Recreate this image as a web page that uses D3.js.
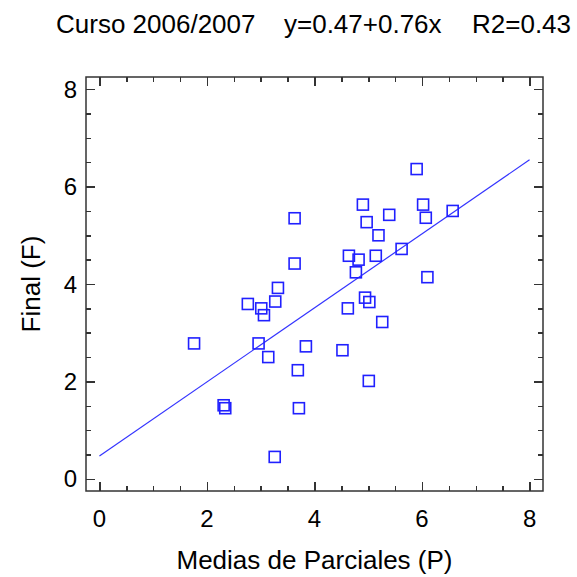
<!DOCTYPE html>
<html>
<head>
<meta charset="utf-8">
<script src="https://cdn.jsdelivr.net/npm/d3@7"></script>
<style>
  html, body { margin: 0; padding: 0; background: #fff; }
  text { font-family: "Liberation Sans", Arial, sans-serif; }
</style>
</head>
<body>
<div id="chart"></div>
<script>
// Medias de parciales (P) vs final (F), one entry per student
var parciales = [1.76, 2.31, 2.34, 2.76, 3.01, 3.06, 2.96, 3.14, 3.27, 3.32, 3.26, 3.63,
  3.63, 3.69, 3.71, 3.84, 4.52, 4.62, 4.64, 4.77, 4.82, 4.90, 4.97, 4.94, 5.02, 5.01,
  5.19, 5.14, 5.26, 5.39, 5.62, 5.90, 6.02, 6.07, 6.10, 6.57];
var finales = [2.78, 1.51, 1.45, 3.59, 3.50, 3.36, 2.78, 2.50, 3.64, 3.92, 0.45, 5.35,
  4.42, 2.23, 1.45, 2.72, 2.64, 3.50, 4.58, 4.24, 4.50, 5.63, 5.27, 3.72, 3.63, 2.01,
  5.00, 4.58, 3.22, 5.42, 4.72, 6.36, 5.63, 5.36, 4.14, 5.50];

// fitted line y = a + b x
var intercept = 0.47, slope = 0.76;
var lineRange = [0, 8];

var majorTicks = [0, 2, 4, 6, 8];
var titleParts = ["Curso 2006/2007", "y=0.47+0.76x", "R2=0.43"];

var width = 577, height = 577;
var margin = { top: 77, right: 34, bottom: 86, left: 86 };

var svg = d3.select("#chart").append("svg")
  .attr("width", width)
  .attr("height", height);

var xScale = d3.scaleLinear()
  .domain([-0.25, 8.25])
  .range([margin.left, width - margin.right]);
var yScale = d3.scaleLinear()
  .domain([-0.25, 8.25])
  .range([height - margin.bottom, margin.top]);

var minorTicks = d3.range(0, 8.01, 0.5);
var axisColor = "#333";

// inward ticks on all four sides
function drawTicks(g, axisFn, scale, pos) {
  g.append("g")
    .attr("transform", pos)
    .call(axisFn(scale).tickValues(minorTicks).tickSize(-5).tickFormat(""))
    .call(s => s.select(".domain").remove());
  g.append("g")
    .attr("transform", pos)
    .call(axisFn(scale).tickValues(majorTicks).tickSize(-9).tickFormat(""))
    .call(s => s.select(".domain").remove());
}

var axes = svg.append("g").attr("class", "axes");
drawTicks(axes, d3.axisBottom, xScale, "translate(0," + yScale.range()[0] + ")");
drawTicks(axes, d3.axisTop, xScale, "translate(0," + yScale.range()[1] + ")");
drawTicks(axes, d3.axisLeft, yScale, "translate(" + xScale.range()[0] + ",0)");
drawTicks(axes, d3.axisRight, yScale, "translate(" + xScale.range()[1] + ",0)");
axes.selectAll(".tick line")
  .attr("stroke", axisColor)
  .attr("stroke-width", 1.5)
  .attr("shape-rendering", "crispEdges");

// frame
svg.append("rect")
  .attr("x", xScale.range()[0])
  .attr("y", yScale.range()[1])
  .attr("width", xScale.range()[1] - xScale.range()[0])
  .attr("height", yScale.range()[0] - yScale.range()[1])
  .attr("fill", "none")
  .attr("stroke", axisColor)
  .attr("stroke-width", 1.5);

// tick labels
svg.append("g").selectAll("text")
  .data(majorTicks)
  .enter().append("text")
  .attr("x", d => xScale(d))
  .attr("y", 527)
  .attr("text-anchor", "middle")
  .attr("font-size", 24)
  .text(d => d);
svg.append("g").selectAll("text")
  .data(majorTicks)
  .enter().append("text")
  .attr("x", 77)
  .attr("y", d => yScale(d))
  .attr("dy", "0.36em")
  .attr("text-anchor", "end")
  .attr("font-size", 24)
  .text(d => d);

// regression line
svg.append("path")
  .datum(lineRange)
  .attr("fill", "none")
  .attr("stroke", "#3333ff")
  .attr("stroke-width", 1.2)
  .attr("d", d3.line()
    .x(d => xScale(d))
    .y(d => yScale(intercept + slope * d)));

// points
var sq = 11;
svg.append("g").selectAll("rect")
  .data(parciales.map((p, i) => [p, finales[i]]))
  .enter().append("rect")
  .attr("x", d => xScale(d[0]) - sq / 2)
  .attr("y", d => yScale(d[1]) - sq / 2)
  .attr("width", sq)
  .attr("height", sq)
  .attr("fill", "none")
  .attr("stroke", "#2020ff")
  .attr("stroke-width", 1.6);

// titles
var titleX = [56, 284, 472];
svg.append("g").selectAll("text")
  .data(titleParts)
  .enter().append("text")
  .attr("x", (d, i) => titleX[i])
  .attr("y", 33)
  .attr("font-size", 26)
  .text(d => d);

svg.append("text")
  .attr("x", (xScale.range()[0] + xScale.range()[1]) / 2)
  .attr("y", 569)
  .attr("text-anchor", "middle")
  .attr("font-size", 26)
  .text("Medias de Parciales (P)");

svg.append("text")
  .attr("transform", "translate(40," + ((yScale.range()[0] + yScale.range()[1]) / 2) + ") rotate(-90)")
  .attr("text-anchor", "middle")
  .attr("font-size", 26)
  .text("Final (F)");
</script>
</body>
</html>
